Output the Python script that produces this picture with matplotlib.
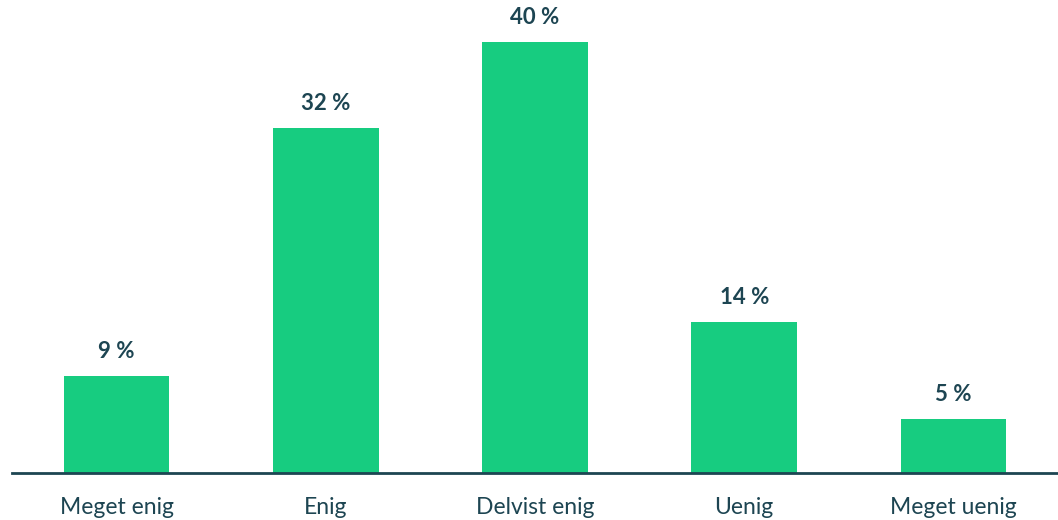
import matplotlib.pyplot as plt

categories = ["Meget enig", "Enig", "Delvist enig", "Uenig", "Meget uenig"]
values = [9, 32, 40, 14, 5]

bar_color = "#17CC80"
text_color = "#1D4552"

plt.rcParams['font.family'] = ['Lato', 'DejaVu Sans']

fig = plt.figure(figsize=(10.58, 5.2), dpi=100)
ax = fig.add_axes([12 / 1058, 47 / 520, 1 - 12 / 1058, 473 / 520])

x = range(len(categories))
bars = ax.bar(x, values, width=0.505, color=bar_color)

for b, v in zip(bars, values):
    ax.annotate(f"{v} %", (b.get_x() + b.get_width() / 2, v),
                xytext=(0, 10), textcoords="offset points",
                ha="center", va="bottom", fontsize=16, fontweight="bold",
                color=text_color)

ax.set_xlim(-0.5, 4.5)
ax.set_ylim(0, 43.9)
ax.set_xticks(list(x))
ax.set_xticklabels(categories, fontsize=16.5, color=text_color)
ax.tick_params(axis="x", length=0, pad=17)
ax.set_yticks([])
for side in ["top", "right", "left"]:
    ax.spines[side].set_visible(False)
ax.spines["bottom"].set_color(text_color)
ax.spines["bottom"].set_linewidth(2)
ax.patch.set_alpha(0)

fig.savefig("out.png", dpi=100)
